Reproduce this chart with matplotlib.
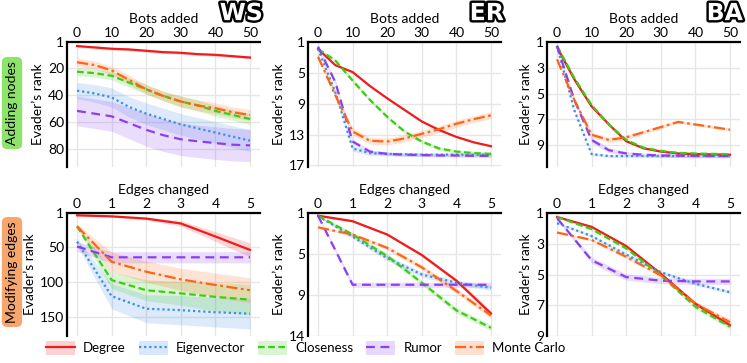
import matplotlib
matplotlib.use("Agg")
import matplotlib.pyplot as plt
import matplotlib.patheffects as pe
from matplotlib.patches import Patch
from matplotlib.lines import Line2D

plt.rcParams['font.family'] = ['Lato', 'DejaVu Sans']

# ---- data ----
names = ["Degree", "Eigenvector", "Closeness", "Rumor", "Monte Carlo"]
colors = ["#f01c1c", "#3d8fe6", "#3ccc14", "#8a3ff0", "#ff6414"]
styles = ["-", (0, (1, 1.3)), (0, (3, 1.6)), (0, (4, 2.5)), (0, (5, 1.6, 1.2, 1.6))]

bots = [0, 5, 10, 15, 20, 25, 30, 35, 40, 45, 50]
edges = [0, 1, 2, 3, 4, 5]

# WS, adding nodes
ws_add = {
    "Degree":      [4, 5, 6, 6.5, 7.5, 8.5, 9, 10, 10.5, 11.5, 12.5],
    "Eigenvector": [37, 39, 42, 49, 54, 58, 62, 65, 68, 71, 74],
    "Closeness":   [23, 24, 26, 31, 36, 41, 45, 48, 52, 55, 58],
    "Rumor":       [52, 54, 56, 61, 66, 70, 73, 74.5, 75.8, 77, 77.5],
    "Monte Carlo": [16, 18, 22, 29, 36, 41, 45, 48, 50, 53, 55],
}
ws_add_err = {
    "Degree":      [1] * 11,
    "Eigenvector": [6, 6.5, 7, 7.5, 8, 8, 8, 8, 8, 8, 8],
    "Closeness":   [3, 3, 3, 3.5, 3.5, 3.5, 4, 4, 4, 4, 4],
    "Rumor":       [11, 11, 11, 11.5, 12, 12, 12, 12, 12, 12, 12],
    "Monte Carlo": [3, 3, 3, 3.5, 3.5, 3.5, 4, 4, 4, 4, 4],
}

# ER, adding nodes
er_add = {
    "Degree":      [1.9, 4.0, 4.9, 6.7, 8.3, 9.8, 11.3, 12.4, 13.3, 14.0, 14.5],
    "Eigenvector": [1.9, 7.5, 14.8, 15.4, 15.5, 15.55, 15.6, 15.6, 15.6, 15.6, 15.6],
    "Closeness":   [1.9, 3.4, 6.0, 8.5, 10.7, 12.6, 13.9, 14.8, 15.2, 15.4, 15.5],
    "Rumor":       [1.6, 6.2, 13.9, 15.2, 15.5, 15.6, 15.65, 15.7, 15.7, 15.75, 15.75],
    "Monte Carlo": [2.9, 7.9, 12.6, 13.8, 13.9, 13.5, 12.9, 12.3, 11.6, 11.0, 10.5],
}
er_add_err = {
    "Degree":      [0.1] * 11,
    "Eigenvector": [0.2, 0.3, 0.35, 0.3, 0.25, 0.25, 0.25, 0.25, 0.25, 0.25, 0.25],
    "Closeness":   [0.15, 0.2, 0.25, 0.25, 0.25, 0.25, 0.25, 0.25, 0.25, 0.25, 0.25],
    "Rumor":       [0.2, 0.3, 0.3, 0.25, 0.2, 0.2, 0.2, 0.2, 0.2, 0.2, 0.2],
    "Monte Carlo": [0.3, 0.4, 0.45, 0.45, 0.45, 0.45, 0.45, 0.45, 0.45, 0.45, 0.45],
}

# BA, adding nodes
ba_add = {
    "Degree":      [1.4, 3.9, 6.0, 7.4, 8.7, 9.25, 9.5, 9.65, 9.7, 9.72, 9.75],
    "Eigenvector": [1.3, 6.3, 9.7, 9.85, 9.85, 9.85, 9.85, 9.85, 9.85, 9.85, 9.85],
    "Closeness":   [1.3, 3.8, 5.9, 7.4, 8.6, 9.2, 9.45, 9.6, 9.65, 9.68, 9.7],
    "Rumor":       [1.3, 5.5, 8.6, 9.4, 9.65, 9.75, 9.8, 9.82, 9.84, 9.85, 9.85],
    "Monte Carlo": [2.35, 5.5, 8.2, 8.6, 8.4, 8.0, 7.6, 7.2, 7.4, 7.6, 7.8],
}
ba_add_err = {
    "Degree":      [0.05] * 11,
    "Eigenvector": [0.1] * 11,
    "Closeness":   [0.1] * 11,
    "Rumor":       [0.1, 0.15, 0.2, 0.2, 0.15, 0.15, 0.15, 0.15, 0.15, 0.15, 0.15],
    "Monte Carlo": [0.1, 0.15, 0.2, 0.2, 0.2, 0.15, 0.15, 0.1, 0.1, 0.1, 0.1],
}

# WS, modifying edges
ws_mod = {
    "Degree":      [4.3, 5.8, 9, 16, 34.6, 53.8],
    "Eigenvector": [42, 120, 138, 140, 143, 145],
    "Closeness":   [20, 97, 111.5, 116, 121, 125],
    "Rumor":       [49, 64.4, 64.4, 64.4, 64.4, 64.4],
    "Monte Carlo": [20, 70.7, 85, 96, 104, 111.5],
}
ws_mod_err = {
    "Degree":      [1, 1, 2, 4, 7, 10],
    "Eigenvector": [5, 18, 20, 21, 21, 22],
    "Closeness":   [3, 12, 15, 17, 20, 22],
    "Rumor":       [7, 8, 8, 8, 8, 8],
    "Monte Carlo": [3, 14, 15, 16, 17, 18],
}

# ER, modifying edges
er_mod = {
    "Degree":      [1.26, 1.8, 3.1, 5.1, 7.6, 10.8],
    "Eigenvector": [1.3, 3.3, 5.4, 7.0, 7.8, 8.3],
    "Closeness":   [1.26, 3.1, 5.2, 7.8, 10.5, 12.2],
    "Rumor":       [1.26, 8.0, 8.0, 8.0, 8.0, 8.0],
    "Monte Carlo": [2.4, 3.1, 4.4, 6.3, 8.6, 11.0],
}
er_mod_err = {
    "Degree":      [0.1, 0.1, 0.1, 0.15, 0.2, 0.25],
    "Eigenvector": [0.1, 0.2, 0.25, 0.25, 0.25, 0.25],
    "Closeness":   [0.1, 0.2, 0.25, 0.25, 0.3, 0.3],
    "Rumor":       [0.1, 0.25, 0.25, 0.25, 0.25, 0.25],
    "Monte Carlo": [0.1, 0.15, 0.2, 0.25, 0.25, 0.3],
}

# BA, modifying edges
ba_mod = {
    "Degree":      [1.26, 1.9, 3.15, 4.95, 6.9, 8.3],
    "Eigenvector": [1.66, 2.5, 3.7, 4.85, 5.6, 6.15],
    "Closeness":   [1.26, 2.05, 3.3, 5.05, 7.1, 8.4],
    "Rumor":       [1.33, 4.07, 5.17, 5.4, 5.45, 5.45],
    "Monte Carlo": [2.27, 2.75, 3.85, 5.05, 6.9, 8.1],
}
ba_mod_err = {
    "Degree":      [0.05, 0.05, 0.08, 0.1, 0.12, 0.15],
    "Eigenvector": [0.05, 0.08, 0.1, 0.1, 0.1, 0.1],
    "Closeness":   [0.05, 0.08, 0.1, 0.1, 0.12, 0.15],
    "Rumor":       [0.1, 0.2, 0.2, 0.2, 0.2, 0.2],
    "Monte Carlo": [0.05, 0.08, 0.1, 0.12, 0.15, 0.2],
}

yticks = {
    "ws_add": [1, 20, 40, 60, 80], "er_add": [1, 5, 9, 13, 17], "ba_add": [1, 3, 5, 7, 9],
    "ws_mod": [1, 50, 100, 150], "er_mod": [1, 5, 9, 13], "ba_mod": [1, 3, 5, 7, 9],
}
er_mod_ticklabels = ["1", "5", "9", "14"]

# ---- figure ----
fig = plt.figure(figsize=(7.47, 3.63), dpi=100)
W, H = 747, 363


def make_ax(left, top, width, height):
    return fig.add_axes([left / W, 1 - (top + height) / H, width / W, height / H])


def draw(ax, x, data, err, ylim, ticks, xlabel, xlim, xticks, ticklabels=None):
    for n, c, ls in zip(names, colors, styles):
        y = data[n]
        e = err[n]
        lo = [a - b for a, b in zip(y, e)]
        hi = [a + b for a, b in zip(y, e)]
        ax.fill_between(x, lo, hi, color=c, alpha=0.18, lw=0)
        ax.plot(x, y, color=c, ls=ls, lw=1.6)
    ax.set_xlim(*xlim)
    ax.set_ylim(*ylim)
    ax.set_xticks(xticks)
    ax.set_yticks(ticks)
    if ticklabels:
        ax.set_yticklabels(ticklabels)
    ax.xaxis.tick_top()
    ax.xaxis.set_label_position("top")
    ax.set_xlabel(xlabel, fontsize=10, labelpad=3)
    ax.set_ylabel("Evader’s rank", fontsize=10, labelpad=3)
    ax.tick_params(length=0, labelsize=10, pad=2)
    ax.grid(True, color="#e6e6e6", lw=1)
    ax.set_axisbelow(True)
    for s in ["right", "bottom"]:
        ax.spines[s].set_visible(False)
    for s in ["left", "top"]:
        ax.spines[s].set_linewidth(1.6)


lefts = [67, 308, 547]
width = 193
top_panels = [(ws_add, ws_add_err, (93.5, 1), yticks["ws_add"], "WS"),
              (er_add, er_add_err, (17.2, 1), yticks["er_add"], "ER"),
              (ba_add, ba_add_err, (10.7, 1), yticks["ba_add"], "BA")]
bot_panels = [(ws_mod, ws_mod_err, (177, 1), yticks["ws_mod"], None),
              (er_mod, er_mod_err, (13, 1), yticks["er_mod"], er_mod_ticklabels),
              (ba_mod, ba_mod_err, (9, 1), yticks["ba_mod"], None)]

for left, (d, e, yl, yt, title) in zip(lefts, top_panels):
    ax = make_ax(left, 42, width, 125)
    draw(ax, bots, d, e, yl, yt, "Bots added", (-2.9, 52.9), [0, 10, 20, 30, 40, 50])
    t = ax.text(1.015, 1.135, title, transform=ax.transAxes, ha="right", va="bottom",
                fontsize=17, fontweight="bold", color="white", family="DejaVu Sans")
    t.set_path_effects([pe.withStroke(linewidth=3.5, foreground="black")])

for left, (d, e, yl, yt, tl) in zip(lefts, bot_panels):
    ax = make_ax(left, 213, width, 123)
    draw(ax, edges, d, e, yl, yt, "Edges changed", (-0.29, 5.29), [0, 1, 2, 3, 4, 5], tl)

# row labels
fig.text(12 / W, 1 - 103 / H, "Adding nodes", rotation=90, ha="center", va="center",
         fontsize=10, bbox=dict(boxstyle="round,pad=0.3,rounding_size=0.4",
                                fc="#8ee46a", ec="none"))
fig.text(12 / W, 1 - 272 / H, "Modifying edges", rotation=90, ha="center", va="center",
         fontsize=10, bbox=dict(boxstyle="round,pad=0.3,rounding_size=0.4",
                                fc="#f7a66c", ec="none"))

# legend
handles = []
for c, ls in zip(colors, styles):
    handles.append((Patch(fc=c, alpha=0.2, ec="none"), Line2D([], [], color=c, ls=ls, lw=1.6)))
fig.legend(handles, names, loc="lower left", bbox_to_anchor=(34 / W, -0.01), ncol=5,
           frameon=False, fontsize=9.5, handlelength=2.2, handleheight=1.2,
           columnspacing=1.0, handletextpad=0.6)

fig.savefig("out.png", dpi=100)
